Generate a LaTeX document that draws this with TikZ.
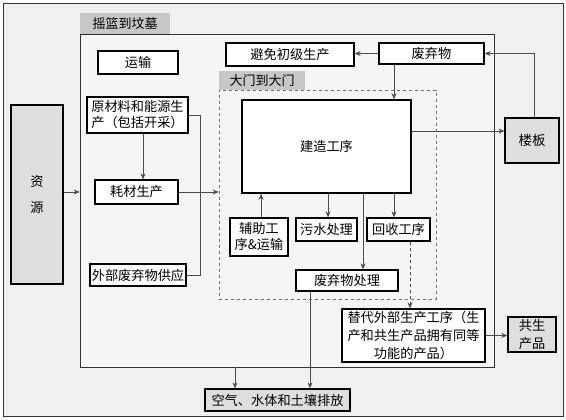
\documentclass[tikz,border=0pt]{standalone}
\usepackage{fontspec}
\setmainfont{Noto Sans CJK SC}
\usetikzlibrary{arrows.meta}
\begin{document}
\begin{tikzpicture}[x=1pt,y=-1pt,
  frame/.style={draw=black!80, line width=0.6pt, inner sep=0pt},
  tab/.style={fill=black!22, inner sep=0pt, font=\fontsize{13}{16}\selectfont},
  box/.style={draw=black, line width=1.3pt, fill=white, inner sep=1pt, align=center, font=\fontsize{13.2}{15}\selectfont},
  gbox/.style={box, fill=black!13},
  ln/.style={draw=black!70, line width=0.7pt},
  arr/.style={ln, -{Stealth[length=6pt,width=5pt]}}]
\useasboundingbox (0,0) rectangle (566,420);
% frames
\node[frame, fill=black!6, minimum width=560pt, minimum height=413pt] (outer) at (283,209.5) {};
\node[frame, fill=black!4, minimum width=414pt, minimum height=333pt] (cradle) at (287,200.5) {};
\node[tab, minimum width=90pt, minimum height=21pt] (cradletab) at (125,23.5) {摇篮到坟墓};
\node[draw=black!55, dashed, line width=0.6pt, inner sep=0pt, minimum width=217pt, minimum height=209pt] (gate) at (327.5,194.5) {};
\node[tab, minimum width=86pt, minimum height=19pt] (gatetab) at (262,80.5) {大门到大门};
% boxes
\node[gbox, minimum width=52pt, minimum height=179pt, font=\fontsize{13.2}{26}\selectfont] (res) at (37,194.5) {资\\源};
\node[box, minimum width=80pt, minimum height=23pt] (trans) at (138,62.5) {运输};
\node[box, minimum width=101pt, minimum height=36pt, align=left, inner sep=0pt, font=\fontsize{13.2}{16}\selectfont] (raw) at (137.5,115) {原材料和能源生\\产（包括开采）};
\node[box, minimum width=83pt, minimum height=24pt] (cons) at (136.5,192) {耗材生产};
\node[box, minimum width=96pt, minimum height=22pt, inner sep=0pt] (ext) at (138,275) {外部废弃物供应};
\node[box, minimum width=128pt, minimum height=23pt] (avoid) at (290,54.5) {避免初级生产};
\node[box, minimum width=105pt, minimum height=21pt] (waste) at (431.5,53.5) {废弃物};
\node[box, line width=1.6pt, minimum width=169pt, minimum height=93pt, font=\fontsize{13.2}{15}\selectfont] (build) at (326.5,146.5) {建造工序};
\node[gbox, minimum width=54pt, minimum height=45pt, font=\fontsize{13.5}{15}\selectfont] (slab) at (532,140.5) {楼板};
\node[box, minimum width=58pt, minimum height=38pt, inner sep=0pt, font=\fontsize{13.2}{16}\selectfont] (aux) at (259,237) {辅助工\\序\&运输};
\node[box, minimum width=61pt, minimum height=23pt, inner sep=0pt] (sew) at (326.5,229.5) {污水处理};
\node[box, minimum width=63pt, minimum height=23pt, inner sep=0pt] (rec) at (398.5,229.5) {回收工序};
\node[box, minimum width=102pt, minimum height=21pt] (wt) at (347,280.5) {废弃物处理};
\node[box, minimum width=143pt, minimum height=53pt, inner sep=0pt, font=\fontsize{13.2}{18}\selectfont] (alt) at (413.5,335.5) {替代外部生产工序（生\\产和共生产品拥有同等\\功能的产品）};
\node[gbox, minimum width=48pt, minimum height=35pt, inner sep=0pt, font=\fontsize{13.2}{18}\selectfont] (co) at (532,334.5) {共生\\产品};
\node[gbox, minimum width=145pt, minimum height=22pt, inner sep=0pt] (emis) at (277.5,400) {空气、水体和土壤排放};
% connectors
\draw[arr] ([yshift=2.5pt]res.east) -- ([yshift=2.5pt]res.east -| cradle.west);
\draw[arr] ([xshift=5.5pt]raw.south) -- ([xshift=5.5pt]raw.south |- cons.north);
\draw[ln] (raw.east) -- ++(12,0) |- (ext.east);
\draw[arr] (cons.east) -- (cons.east -| gate.west);
\draw[arr] (waste.west) -- (waste.west -| avoid.east);
\draw[arr] ([xshift=-37.5pt]waste.south) -- ([xshift=-37.5pt]waste.south |- build.north);
\draw[arr] ([yshift=15.5pt]build.east) -- ([yshift=15.5pt]build.east -| slab.west);
\draw[arr] ([xshift=2pt]slab.north) |- (waste.east);
\draw[arr] ([xshift=2pt]aux.north) -- ([xshift=2pt]aux.north |- build.south);
\draw[arr] ([xshift=1.5pt]sew.north |- build.south) -- ([xshift=1.5pt]sew.north);
\draw[arr] ([xshift=-4.5pt]rec.north |- build.south) -- ([xshift=-4.5pt]rec.north);
\draw[arr] ([xshift=16pt]wt.north |- build.south) -- ([xshift=16pt]wt.north);
\draw[arr, dashed] ([xshift=11.5pt]rec.south) -- ([xshift=11.5pt]rec.south |- alt.north);
\draw[arr] (alt.east) -- (alt.east -| co.west);
\draw[arr] ([xshift=-42.5pt]emis.north |- cradle.south) -- ([xshift=-42.5pt]emis.north);
\draw[arr] ([xshift=-37pt]wt.south) -- ([xshift=-37pt]wt.south |- emis.north);
\end{tikzpicture}
\end{document}
